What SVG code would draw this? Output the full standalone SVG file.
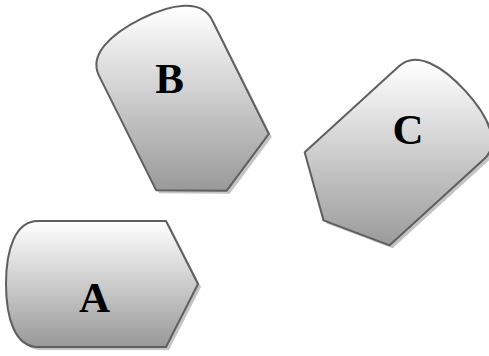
<svg xmlns="http://www.w3.org/2000/svg" xmlns:xlink="http://www.w3.org/1999/xlink" width="489" height="356" viewBox="0 0 489 356">
  <style>
    .shape { stroke: #5f5f5f; stroke-width: 2; stroke-linejoin: round; }
    .shadow { fill: #c4c4c4; stroke: none; }
    .label { font-family: "Liberation Serif", "Times New Roman", serif; font-weight: bold; font-size: 43px; fill: #000; text-anchor: middle; }
  </style>
  <defs>
    <path id="disp" d="M -62,-63 L 66,-63 L 98,0 L 66,63 L -62,63 C -85,63 -94,34 -94,0 C -94,-34 -85,-63 -62,-63 Z"/>
    <linearGradient id="gA" gradientUnits="userSpaceOnUse" x1="0" y1="-63" x2="0" y2="63">
      <stop offset="0" stop-color="#ffffff"/>
      <stop offset="1" stop-color="#999999"/>
    </linearGradient>
    <linearGradient id="gB" gradientUnits="userSpaceOnUse" x1="-85" y1="-42.4" x2="78.8" y2="39.2">
      <stop offset="0" stop-color="#ffffff"/>
      <stop offset="1" stop-color="#999999"/>
    </linearGradient>
    <linearGradient id="gC" gradientUnits="userSpaceOnUse" x1="-62" y1="67.9" x2="63.4" y2="-69.4">
      <stop offset="0" stop-color="#ffffff"/>
      <stop offset="1" stop-color="#999999"/>
    </linearGradient>
  </defs>
  <g id="connectors"/>
  <g id="A">
    <use xlink:href="#disp" class="shadow" transform="translate(103,287)"/>
    <use xlink:href="#disp" class="shape" fill="url(#gA)" transform="translate(100,284)"/>
    <text class="label" x="94.5" y="312">A</text>
  </g>
  <g id="B">
    <use xlink:href="#disp" class="shadow" transform="translate(186,106) rotate(63.5)"/>
    <use xlink:href="#disp" class="shape" fill="url(#gB)" transform="translate(183,103) rotate(63.5)"/>
    <text class="label" x="169.5" y="93">B</text>
  </g>
  <g id="C">
    <use xlink:href="#disp" class="shadow" transform="translate(398.9,157.3) rotate(137.6)"/>
    <use xlink:href="#disp" class="shape" fill="url(#gC)" transform="translate(395.9,154.3) rotate(137.6)"/>
    <text class="label" x="408" y="144">C</text>
  </g>
</svg>
